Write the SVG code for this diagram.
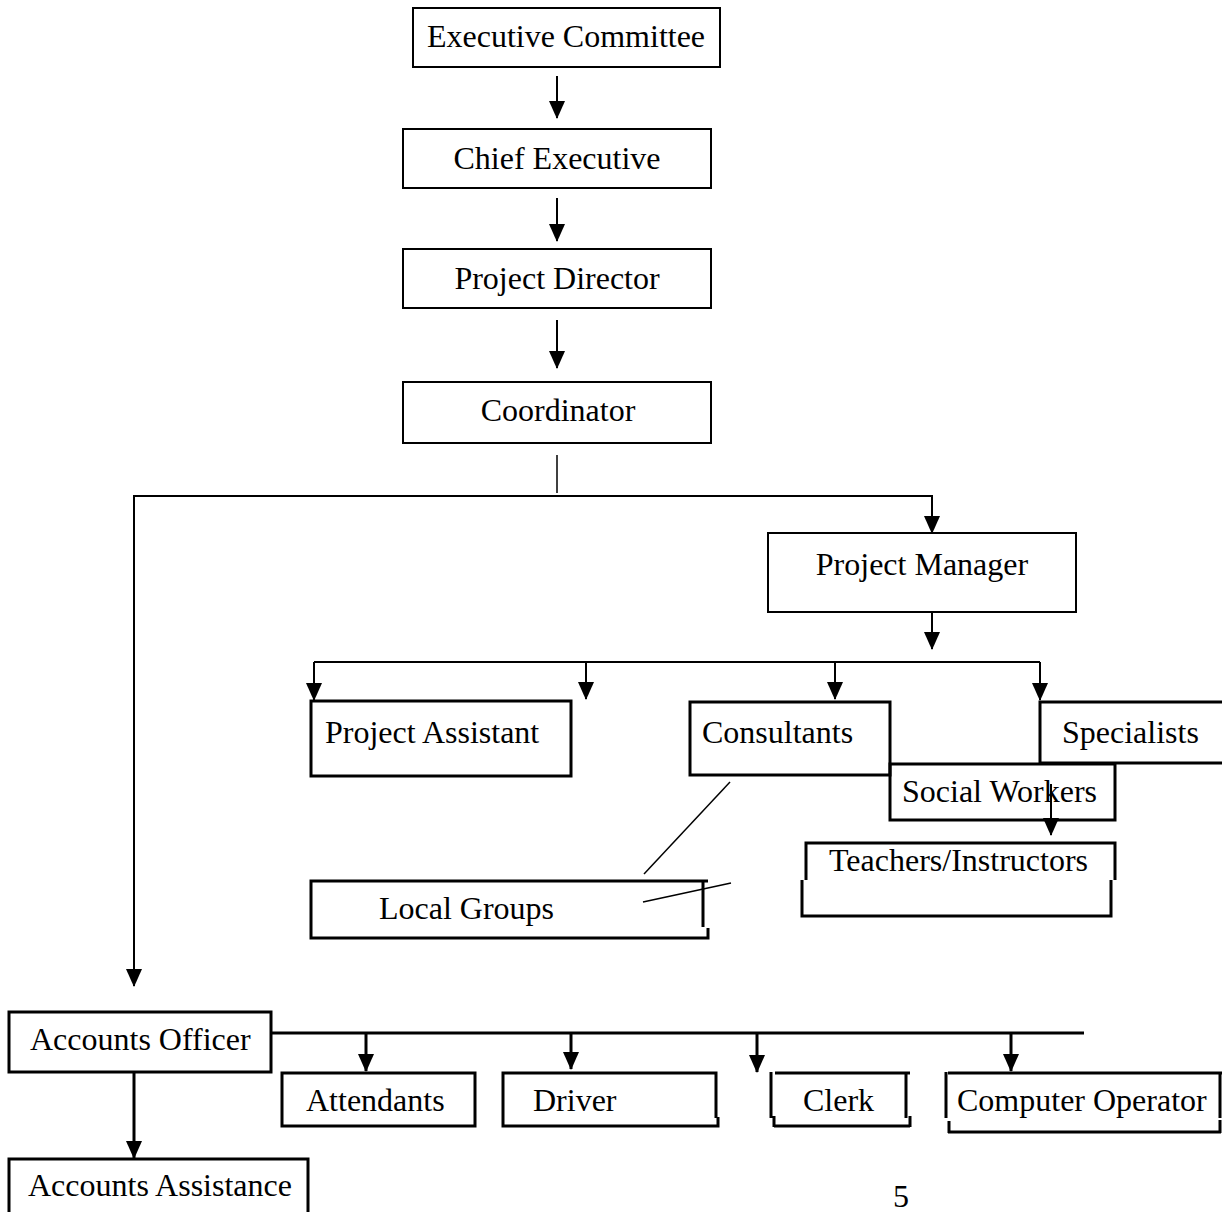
<svg xmlns="http://www.w3.org/2000/svg" width="1222" height="1212" viewBox="0 0 1222 1212">
<style>
text{font-family:"Liberation Serif","Times New Roman",serif;font-size:32px;fill:#000}
.c{text-anchor:middle}
.thin{fill:none;stroke:#000;stroke-width:2}
.thick{fill:none;stroke:#000;stroke-width:3}
.hair{fill:none;stroke:#000;stroke-width:1.5}
</style>
<defs>
<marker id="ah" markerUnits="userSpaceOnUse" markerWidth="18" markerHeight="16" refX="17" refY="8" orient="auto">
<path d="M0,0 L18,8 L0,16 z" fill="#000"/>
</marker>
</defs>
<rect width="1222" height="1212" fill="#fff"/>

<g id="connectors">
<line class="thin" x1="557" y1="76" x2="557" y2="118" marker-end="url(#ah)"/>
<line class="thin" x1="557" y1="198" x2="557" y2="241" marker-end="url(#ah)"/>
<line class="thin" x1="557" y1="320" x2="557" y2="368" marker-end="url(#ah)"/>
<line class="hair" x1="557" y1="455" x2="557" y2="493"/>
<polyline class="thin" points="134,496 932,496 932,533" marker-end="url(#ah)"/>
<line class="thin" x1="134" y1="495" x2="134" y2="986" marker-end="url(#ah)"/>
<line class="thin" x1="932" y1="612" x2="932" y2="649" marker-end="url(#ah)"/>
<line class="thin" x1="314" y1="662" x2="1040" y2="662"/>
<line class="thin" x1="314" y1="662" x2="314" y2="700" marker-end="url(#ah)"/>
<line class="thin" x1="586" y1="662" x2="586" y2="699" marker-end="url(#ah)"/>
<line class="thin" x1="835" y1="662" x2="835" y2="699" marker-end="url(#ah)"/>
<line class="thin" x1="1040" y1="662" x2="1040" y2="700" marker-end="url(#ah)"/>
<line class="thin" x1="1051" y1="784" x2="1051" y2="835" marker-end="url(#ah)"/>
<line class="hair" x1="730" y1="782" x2="644" y2="874"/>
<line class="hair" x1="643" y1="902" x2="731" y2="883"/>
<line class="thick" x1="271" y1="1033" x2="1084" y2="1033"/>
<line class="thick" x1="366" y1="1033" x2="366" y2="1071" marker-end="url(#ah)"/>
<line class="thick" x1="571" y1="1033" x2="571" y2="1069" marker-end="url(#ah)"/>
<line class="thick" x1="757" y1="1033" x2="757" y2="1072" marker-end="url(#ah)"/>
<line class="thick" x1="1011" y1="1033" x2="1011" y2="1071" marker-end="url(#ah)"/>
<line class="thick" x1="134" y1="1072" x2="134" y2="1158" marker-end="url(#ah)"/>
</g>

<g id="executive-committee">
<rect class="thin" x="413" y="8" width="307" height="59"/>
<text class="c" x="566" y="47">Executive Committee</text>
</g>
<g id="chief-executive">
<rect class="thin" x="403" y="129" width="308" height="59"/>
<text class="c" x="557" y="169">Chief Executive</text>
</g>
<g id="project-director">
<rect class="thin" x="403" y="249" width="308" height="59"/>
<text class="c" x="557" y="289">Project Director</text>
</g>
<g id="coordinator">
<rect class="thin" x="403" y="382" width="308" height="61"/>
<text class="c" x="558" y="421">Coordinator</text>
</g>
<g id="project-manager">
<rect class="thin" x="768" y="533" width="308" height="79"/>
<text class="c" x="922" y="575">Project Manager</text>
</g>
<g id="project-assistant">
<rect class="thick" x="311" y="701" width="260" height="75"/>
<text x="325" y="743">Project Assistant</text>
</g>
<g id="consultants">
<rect class="thick" x="690" y="702" width="200" height="73"/>
<text x="702" y="743">Consultants</text>
</g>
<g id="specialists">
<path class="thick" d="M1224,702 H1040 V763 H1224"/>
<text x="1062" y="743">Specialists</text>
</g>
<g id="social-workers">
<rect class="thick" x="890" y="764" width="225" height="56"/>
<text x="902" y="802">Social Workers</text>
</g>
<g id="teachers-instructors">
<path class="thick" d="M806,880 V843 H1115 V880 M802,880 V916 H1111 V880"/>
<text x="829" y="871">Teachers/Instructors</text>
</g>
<g id="local-groups">
<path class="thick" d="M703,927 V881 H708 M703,881 H311 V938 H708 V928"/>
<text x="379" y="919">Local Groups</text>
</g>
<g id="accounts-officer">
<rect class="thick" x="9" y="1012" width="262" height="60"/>
<text x="30" y="1050">Accounts Officer</text>
</g>
<g id="attendants">
<rect class="thick" x="282" y="1073" width="193" height="53"/>
<text x="306" y="1111">Attendants</text>
</g>
<g id="driver">
<path class="thick" d="M716,1118 V1073 H503 V1126 H718 V1117"/>
<text x="533" y="1111">Driver</text>
</g>
<g id="clerk">
<path class="thick" d="M771,1118 V1072 M775,1073 H910 M906,1072 V1118 M910,1116 V1127 M774,1116 V1127 M774,1126 H910"/>
<text x="803" y="1111">Clerk</text>
</g>
<g id="computer-operator">
<path class="thick" d="M946,1118 V1072 M948,1073 H1222 M1220,1073 V1118 M1220,1120 V1133 M949,1121 V1133 M948,1132 H1221"/>
<text x="957" y="1111">Computer Operator</text>
</g>
<g id="accounts-assistance">
<path class="thick" d="M9,1214 V1159 H308 V1214"/>
<text x="28" y="1196">Accounts Assistance</text>
</g>
<text x="893" y="1207">5</text>
</svg>
